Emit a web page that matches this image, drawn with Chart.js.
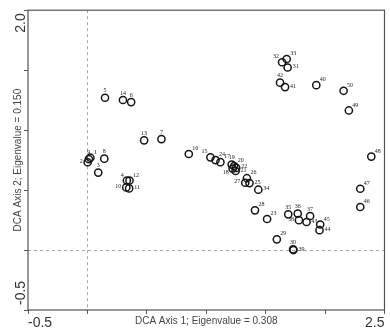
<!DOCTYPE html>
<html>
<head>
<meta charset="utf-8">
<script src="https://cdn.jsdelivr.net/npm/chart.js@4.4.1/dist/chart.umd.min.js"></script>
<style>
    body { margin: 0; background: #fff; }
    #wrap { width: 390px; height: 331px; position: relative; }
</style>
</head>
<body>
<div id="wrap"><canvas id="dcaChart"></canvas></div>
<script>
// ----------------------- DATA -------------------- //
var siteIds = ['1', '2', '3', '4', '5', '6', '7', '8', '9', '10',
    '11', '12', '13', '14', '15', '16', '17', '18', '19', '20',
    '21', '22', '23', '24', '25', '26', '27', '28', '29', '30',
    '31', '32', '33', '34', '35', '36', '37', '38', '39', '40',
    '41', '42', '43', '44', '45', '46', '47', '48', '49', '50'];

var axis1Scores = [0.025, 0.002, 0.091, 0.332, 0.148, 0.368, 0.623, 0.142, 0.012, 0.327,
    0.351, 0.354, 0.477, 0.299, 1.035, 0.853, 1.119, 1.222, 1.214, 1.235,
    1.247, 1.252, 1.512, 1.078, 1.364, 1.342, 1.328, 1.410, 1.594, 1.731,
    1.685, 1.638, 1.677, 1.438, 1.690, 1.770, 1.874, 1.780, 1.734, 1.926,
    1.663, 1.621, 1.844, 1.953, 1.959, 2.296, 2.296, 2.389, 2.200, 2.156];

var axis2Scores = [0.770, 0.732, 0.646, 0.580, 1.270, 1.234, 0.925, 0.762, 0.758, 0.522,
    0.514, 0.580, 0.915, 1.251, 0.773, 0.801, 0.733, 0.679, 0.713, 0.700,
    0.659, 0.685, 0.259, 0.750, 0.558, 0.599, 0.561, 0.331, 0.089, 0.006,
    1.522, 1.566, 1.593, 0.503, 0.298, 0.304, 0.284, 0.249, 0.000, 1.375,
    1.359, 1.396, 0.234, 0.166, 0.213, 0.359, 0.511, 0.779, 1.164, 1.328];

var xTickLabels = ['-0.5', '2.5'];
var yTickLabels = ['-0.5', '2.0'];

var xTitle = 'DCA Axis 1; Eigenvalue = 0.308';
var yTitle = 'DCA Axis 2; Eigenvalue = 0.150';

// ----------------------- LABEL PLACEMENT -------------------- //
// where the little site number sits around its circle (default ne)
var labelSpots = {
    '2': 'w', '3': 'n', '4': 'nw', '5': 'n', '6': 'n', '7': 'n', '8': 'n', '9': 'n',
    '10': 'w', '11': 'e', '13': 'n', '14': 'n', '15': 'nw', '18': 'sw', '19': 'n',
    '21': 'e', '22': 'e', '25': 'e', '27': 'w', '30': 'n', '31': 'e', '32': 'nw',
    '34': 'e', '35': 'n', '36': 'n', '37': 'n', '38': 'w', '39': 'e', '41': 'e',
    '42': 'n', '43': 'e', '44': 'e'
};
var spotOffsets = {
    ne: [3.5, -5.5, 'left'],
    n: [0, -7, 'center'],
    nw: [-3, -5.5, 'right'],
    e: [5, -1, 'left'],
    w: [-5, -1, 'right'],
    sw: [-4, 4, 'right']
};

var points = axis1Scores.map(function(x, i) {
    return { x: x, y: axis2Scores[i] };
});

function isVal(a, b) {
    return Math.abs(a - b) < 1e-6;
}

// ----------------------- PLUGINS -------------------- //
var frameBox = {
    id: 'frameBox',
    beforeDatasetsDraw: function(chart) {
        var ctx = chart.ctx, a = chart.chartArea;
        ctx.save();
        ctx.strokeStyle = '#555';
        ctx.lineWidth = 1.2;
        ctx.strokeRect(a.left, a.top, a.right - a.left, a.bottom - a.top);
        ctx.restore();
    }
};

// y end labels sit inside the axis span, reading bottom to top
var yEndLabels = {
    id: 'yEndLabels',
    afterDraw: function(chart) {
        var ctx = chart.ctx, ys = chart.scales.y;
        ctx.save();
        ctx.font = '14px "Liberation Sans", Arial, sans-serif';
        ctx.fillStyle = '#333';
        ctx.textBaseline = 'middle';
        yTickLabels.forEach(function(lbl) {
            var v = parseFloat(lbl);
            var py = ys.getPixelForValue(v);
            ctx.save();
            if (isVal(v, ys.max)) {
                ctx.translate(21, py + 3);
                ctx.rotate(-Math.PI / 2);
                ctx.textAlign = 'right';
            } else {
                ctx.translate(21, py - 5);
                ctx.rotate(-Math.PI / 2);
                ctx.textAlign = 'left';
            }
            ctx.fillText(lbl, 0, 0);
            ctx.restore();
        });
        ctx.restore();
    }
};

var pointLabels = {
    id: 'pointLabels',
    afterDatasetsDraw: function(chart) {
        var ctx = chart.ctx;
        var meta = chart.getDatasetMeta(0);
        ctx.save();
        ctx.font = '6px "Liberation Serif", "Times New Roman", serif';
        ctx.fillStyle = '#222';
        ctx.textBaseline = 'middle';
        meta.data.forEach(function(pt, i) {
            var off = spotOffsets[labelSpots[siteIds[i]] || 'ne'];
            ctx.textAlign = off[2];
            ctx.fillText(siteIds[i], pt.x + off[0], pt.y + off[1]);
        });
        ctx.restore();
    }
};

// ----------------------- CHART -------------------- //
var zeroGrid = function(c) {
    return (c.tick && isVal(c.tick.value, 0)) ? '#a8a8a8' : 'rgba(0,0,0,0)';
};

var ctx = document.getElementById('dcaChart').getContext('2d');
var chart = new Chart(ctx, {
    type: 'scatter',
    data: {
        datasets: [{
            data: points,
            pointStyle: 'circle',
            pointRadius: 3.6,
            pointBorderWidth: 1.5,
            borderColor: '#151515',
            backgroundColor: 'rgba(0,0,0,0)'
        }]
    },
    options: {
        responsive: true,
        maintainAspectRatio: false,
        animation: false,
        events: [],
        layout: { padding: { top: 9, right: 1, left: 0, bottom: 0 } },
        plugins: {
            legend: { display: false },
            tooltip: { enabled: false }
        },
        scales: {
            x: {
                type: 'linear',
                min: -0.5,
                max: 2.5,
                border: { display: false, dash: [3, 3] },
                grid: { color: zeroGrid, lineWidth: 1, tickLength: 4, tickColor: '#555', tickWidth: 1 },
                ticks: {
                    stepSize: 0.5,
                    autoSkip: false,
                    maxRotation: 0,
                    align: 'inner',
                    padding: 1,
                    color: '#333',
                    font: { family: '"Liberation Sans", Arial, sans-serif', size: 14 },
                    callback: function(v) {
                        var hit = xTickLabels.filter(function(l) { return isVal(parseFloat(l), v); });
                        return hit.length ? hit[0] : '';
                    }
                },
                title: {
                    display: true,
                    text: xTitle,
                    color: '#444',
                    font: { family: '"Liberation Sans", Arial, sans-serif', size: 10 },
                    padding: { top: 0, bottom: 4 }
                },
                afterFit: function(scale) { scale.height = 21; }
            },
            y: {
                type: 'linear',
                min: -0.5,
                max: 2.0,
                border: { display: false, dash: [3, 3] },
                grid: { color: zeroGrid, lineWidth: 1, tickLength: 4, tickColor: '#555', tickWidth: 1 },
                ticks: {
                    stepSize: 0.5,
                    autoSkip: false,
                    callback: function() { return ''; }
                },
                title: {
                    display: true,
                    text: yTitle,
                    color: '#444',
                    font: { family: '"Liberation Sans", Arial, sans-serif', size: 10 },
                    padding: { top: 12, bottom: 0 }
                },
                afterFit: function(scale) { scale.width = 28; }
            }
        }
    },
    plugins: [frameBox, pointLabels, yEndLabels]
});
</script>
</body>
</html>
